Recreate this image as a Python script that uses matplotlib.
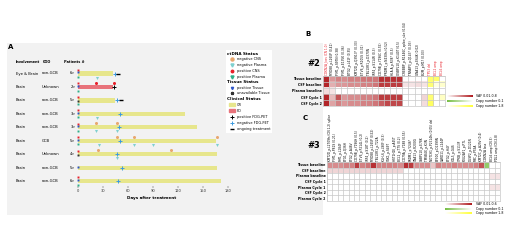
import numpy as np
import matplotlib
matplotlib.use('Agg')
import matplotlib.pyplot as plt
from matplotlib.colors import to_rgb
from matplotlib.patches import Rectangle

W, H = 520, 247

# ---- panel A data ----
involvement = ['Eye & Brain', 'Brain', 'Brain', 'Brain', 'Brain', 'Brain', 'Brain', 'Brain', 'Brain']
coo = ['non-GCB', 'Unknown', 'non-GCB', 'non-GCB', 'non-GCB', 'GCB', 'Unknown', 'non-GCB', 'non-GCB']
patients = ['6', '2', '5', '3', '3', '5', '4', '5', '6']
clin_status = ['CR', 'PD', 'CR', 'CR', 'CR', 'CR', 'CR', 'CR', 'CR']
last_day = [42, 42, 44, 128, 143, 166, 167, 167, 172]
neg_cns = [(4, 22), (4, 47), (5, 47), (5, 67), (5, 167), (6, 24), (6, 112)]
neg_plasma = [(0, 23), (3, 23), (4, 22), (4, 47), (5, 25), (5, 67), (5, 90), (5, 167), (6, 47)]
pos_cns = [(1, 22), (1, 43)]
pos_pet = [(1, 43)]
neg_pet = [(0, 44), (2, 47), (3, 50), (4, 49), (5, 50), (6, 47), (7, 53), (8, 48)]
ongoing = [(0, 48), (2, 51)]
base_pos_cns = [0, 1, 2, 3, 4, 5, 6, 8]
base_tissue_pos = [0, 1, 3, 4, 5, 7, 8]
base_tissue_na = [2, 6]
base_pos_plasma = [0, 1, 2, 3, 4, 5, 8]
days_ticks = [0, 30, 60, 90, 120, 150, 180]

# ---- panel B data ----
genes_b = ['CDKN2A_loss (CN 1.0)', 'MYD88_p.L265P (0.41)', 'PIM1_p.S97N (0.38)', 'PIM1_p.E135K (0.36)',
           'BTG2_p.L41F (0.35)', 'KMT2D_p.Q3913* (0.33)', 'ETV6_p.R105S (0.31)', 'TBL1XR1_p.D370N',
           'IRF4_p.S114R (0.3)', 'CD79B_p.Y196C (0.55)', 'PRDM1_p.N430fs (0.52)', 'HLA-A_p.R38* (0.5)',
           'OSBPL10_p.K140T (0.5)', 'CREBBP_p.R1446C_splice_site (0.04)', 'TNFAIP3_p.Q143* (0.03)',
           'GNA13_p.E64K (0.02)', 'B2M_p.M1? (0.03)', 'TP53 del', 'BCL2 amp', 'BCL6 amp']
red_b = [0, 17, 18, 19]
rows_b = ['Tissue baseline', 'CSF baseline', 'Plasma baseline', 'CSF Cycle 1', 'CSF Cycle 2']
vaf_b = [
    [0.95, 0.45, 0.55, 0.5, 0.55, 0.55, 0.6, 0.6, 0.6, 0.9, 0.9, 0.9, 0.9, 0, 0, 0, 0, 0, 0, 0],
    [0.95, 0.35, 0.45, 0.45, 0.5, 0.5, 0.55, 0.55, 0.6, 0.85, 0.85, 0.85, 0.85, 0.12, 0.12, 0.15, 0.12, 0, 0, 0],
    [0.15, 0.12, 0, 0, 0, 0, 0, 0, 0, 0, 0, 0, 0, 0, 0, 0, 0, 0, 0, 0],
    [0.95, 0.3, 0.75, 0.45, 0.5, 0.5, 0.55, 0.55, 0.6, 0.85, 0.85, 0.85, 0.85, 0, 0, 0, 0.18, 0, 0, 0],
    [0.95, 0.4, 0.55, 0.45, 0.5, 0.5, 0.55, 0.55, 0.6, 0.7, 0.8, 0.8, 0.8, 0, 0, 0, 0.15, 0, 0, 0],
]
cn_b = [
    [0] * 17 + [0.75, 0.75, 0],
    [0] * 17 + [0.7, 0.15, 0.25],
    [0] * 20,
    [0] * 17 + [0.7, 0, 0.3],
    [0] * 17 + [0.8, 0, 0],
]

# ---- panel C data ----
genes_c = ['KMT2D_p.L2709fs (CN 1.2) splice', 'PIM1_p.P81S (0.21)', 'PIM1_p.L184F', 'BTG1_p.Q36H',
           'BTG2_p.A48V', 'CD79B_p.Y196H (0.5)', 'ETV6_p.P214L (0.2)', 'IRF4_p.S18T (0.2)',
           'MYD88_p.L265P (0.52)', 'TBL1XR1_p.T22A', 'KLHL6_p.L90F (0.3)', 'SGK1_p.S49T',
           'HIST1H1E_p.A45T', 'BCL2_p.T7S (0.2)', 'CD79A_p.Y188 (0.55)', 'PRDM1_p.Y246*',
           'GNA13_p.R200G', 'OSBPL10_p.E78K', 'TMSB4X_p.K3N', 'NOTCH1_p.P2514fs (0.05) del',
           'EP300_p.D1399N', 'CARD11_p.L244P', 'BTG2_p.H4Y', 'IGLL5_p.G4S', 'ITPKB_p.S113F',
           'POU2AF1_p.P7L', 'DUSP2_p.D121N', 'MYC_p.P59A', 'KMT2C_p.A29V (0.4)', 'CDKN2A loss',
           'BCL6 amp (CN 3)', 'PDL1 amp (CN 2.8)']
rows_c = ['Tissue baseline', 'CSF baseline', 'Plasma baseline', 'CSF Cycle 1',
          'Plasma Cycle 1', 'CSF Cycle 2', 'Plasma Cycle 2']
vaf_c = [
    [0.5, 0.5, 0.5, 0.55, 0.55, 0.85, 0.55, 0.6, 0.9, 0.55, 0.55, 0.55, 0.55, 0.5, 0.9, 0.85,
     0.5, 0.5, 0.5, 0.25, 0.55, 0.5, 0.5, 0.55, 0.5, 0.5, 0.5, 0.55, 0.75, 0, 0, 0],
    [0.18] * 14 + [0] * 18,
    [0] * 30 + [0.12, 0.12],
    [0] * 32,
    [0] * 30 + [0.12, 0.12],
    [0] * 32,
    [0] * 32,
]
cn_c = [[0] * 29 + [-0.8, 0, 0]] + [[0] * 32 for _ in range(6)]


def box(l, t, r, b):
    return [l / W, 1 - b / H, (r - l) / W, (b - t) / H]


def fxy(x, y):
    return x / W, 1 - y / H


fig = plt.figure(figsize=(5.2, 2.47), dpi=100)
fig.patch.set_facecolor('white')

# grey panel A background
fig.patches.append(Rectangle(fxy(7, 215), 316 / W, 172 / H, transform=fig.transFigure,
                             facecolor='#f2f2f2', edgecolor='none', zorder=-5))
fig.text(*fxy(8, 47), 'A', fontsize=5, fontweight='bold', va='center')
fig.text(*fxy(305, 34), 'B', fontsize=5, fontweight='bold', va='center')
fig.text(*fxy(303, 118), 'C', fontsize=5, fontweight='bold', va='center')

# ---- panel A timeline ----
ax = fig.add_axes(box(72, 66, 232, 186))
ax.set_facecolor('none')
n = len(involvement)
ax.set_xlim(-7.2, 184.8)
ax.set_ylim(8.364, -0.558)
cols = {'CR': '#e7e68c', 'PD': '#e8737b'}
for i in range(n):
    ax.barh(i, last_day[i], height=0.32, color=cols[clin_status[i]], zorder=1)
ms = 2.2
for r, d in neg_cns:
    ax.plot(d, r - 0.3, 'o', color='#e8a86f', ms=ms, mec='none', zorder=3)
for r, d in neg_plasma:
    ax.plot(d, r + 0.3, 'v', color='#7fd0cf', ms=ms, mec='none', zorder=3)
for r, d in pos_cns:
    ax.plot(d, r - 0.3, 'o', color='#e8202a', ms=ms, mec='none', zorder=3)
for r, d in pos_pet:
    ax.plot(d, r, '+', color='black', ms=3.5, mew=0.7, zorder=4)
for r, d in neg_pet:
    ax.plot(d, r, '+', color='#3d9be0', ms=3.5, mew=0.7, zorder=4)
for r, d in ongoing:
    ax.plot(d, r, '_', color='black', ms=2.5, mew=1.0, zorder=4)
for r in base_pos_cns:
    ax.plot(0, r - 0.27, 's', color='#e8202a', ms=1.4, mec='none', zorder=3)
for r in base_tissue_pos:
    ax.plot(0, r - 0.08, 's', color='#2c54c8', ms=1.4, mec='none', zorder=3)
for r in base_tissue_na:
    ax.plot(0, r + 0.08, 's', color='#333333', ms=1.4, mec='none', zorder=3)
for r in base_pos_plasma:
    ax.plot(0, r + 0.27, 's', color='#2fb08a', ms=1.4, mec='none', zorder=3)
for s in ax.spines.values():
    s.set_visible(False)
ax.set_yticks([])
ax.set_xticks(days_ticks)
ax.set_xticklabels([str(d) for d in days_ticks], fontsize=2.6, color='#333333')
ax.tick_params(axis='x', length=1.5, width=0.3, pad=1, colors='#333333')
ax.set_xlabel('Days after treatment', fontsize=3, fontweight='bold', labelpad=1.5)

for i in range(n):
    y = 73.5 + 13.45 * i
    fig.text(*fxy(16, y), involvement[i], fontsize=2.7, va='center')
    fig.text(*fxy(42, y), coo[i], fontsize=2.7, va='center')
    fig.text(*fxy(75.5, y), patients[i] + '>', fontsize=2.6, va='center', ha='right')
fig.text(*fxy(16, 62), 'Involvement', fontsize=2.5, fontweight='bold', va='center')
fig.text(*fxy(43, 62), 'COO', fontsize=2.5, fontweight='bold', va='center')
fig.text(*fxy(64, 62), 'Patients #', fontsize=2.5, fontweight='bold', va='center')

# ---- panel A legend ----
lg = fig.add_axes(box(226, 50, 272, 133))
lg.set_xlim(226, 272)
lg.set_ylim(133, 50)
lg.set_facecolor('white')
lg.set_xticks([])
lg.set_yticks([])
for s in lg.spines.values():
    s.set_visible(False)
lg_fs = 2.5
lg.text(227, 53.7, 'ctDNA Status', fontsize=3, fontweight='bold', va='center')
lg.text(227, 82, 'Tissue Status', fontsize=3, fontweight='bold', va='center')
lg.text(227, 99, 'Clinical Status', fontsize=3, fontweight='bold', va='center')
items = [
    (59, 'negative CNS', dict(marker='o', color='#e8a86f', ms=2.2)),
    (65, 'negative Plasma', dict(marker='v', color='#7fd0cf', ms=2.2)),
    (71, 'positive CNS', dict(marker='o', color='#e8202a', ms=1.8)),
    (77, 'positive Plasma', dict(marker='v', color='#2fb08a', ms=2.2)),
    (88, 'positive Tissue', dict(marker='v', color='#2c54c8', ms=1.6)),
    (93, 'unavailable Tissue', dict(marker='*', color='#333333', ms=2.2)),
    (117, 'positive FDG-PET', dict(marker='+', color='black', ms=3.5, mew=0.7)),
    (123, 'negative FDG-PET', dict(marker='+', color='#3d9be0', ms=3.5, mew=0.7)),
    (129, 'ongoing treatment', dict(marker='_', color='black', ms=2.5, mew=1.0)),
]
for y, lab, kw in items:
    lg.plot(232, y, linestyle='none', mec=kw['color'], **kw)
    lg.text(237, y, lab, fontsize=lg_fs, va='center')
for y, lab, c in [(105, 'CR', '#e7e68c'), (111, 'PD', '#e8737b')]:
    lg.add_patch(Rectangle((229, y - 1.5), 6, 3, color=c))
    lg.text(237, y, lab, fontsize=lg_fs, va='center')

# ---- heatmaps ----
RED = np.array(to_rgb('#b01a1e'))
YEL = np.array(to_rgb('#ffff3a'))
GRN = np.array(to_rgb('#78be45'))


def heat(rect, vaf, cn, genes, red_cols, rows, gene_fs):
    vaf = np.array(vaf, dtype=float)
    cn = np.array(cn, dtype=float)
    img = np.ones(vaf.shape + (3,))
    v = vaf[..., None]
    img = img * (1 - v) + RED * v
    cp = np.clip(cn, 0, None)[..., None]
    img = img * (1 - cp) + YEL * cp
    cg = np.clip(-cn, 0, None)[..., None]
    img = img * (1 - cg) + GRN * cg
    hx = fig.add_axes(box(*rect))
    hx.imshow(img, aspect='auto', interpolation='nearest')
    nr, nc = vaf.shape
    hx.set_xticks(np.arange(nc + 1) - 0.5, minor=True)
    hx.set_yticks(np.arange(nr + 1) - 0.5, minor=True)
    hx.grid(which='minor', color='#c8c8c8', lw=0.5)
    hx.tick_params(which='both', length=0, pad=1)
    hx.xaxis.tick_top()
    hx.set_xticks(range(nc))
    hx.set_xticklabels(genes, rotation=90, fontsize=gene_fs)
    for j, t in enumerate(hx.get_xticklabels()):
        if j in red_cols:
            t.set_color('#e8202a')
    hx.set_yticks(range(nr))
    hx.set_yticklabels(rows, fontsize=2.3, fontweight='bold')
    for s in hx.spines.values():
        s.set_color('#c8c8c8')
        s.set_linewidth(0.5)
    return hx


heat((323, 76, 445, 106), vaf_b, cn_b, genes_b, red_b, rows_b, 2.1)
heat((327, 162, 500, 201), vaf_c, cn_c, genes_c, [], rows_c, 2.1)
fig.text(*fxy(307, 63), '#2', fontsize=6, fontweight='bold', va='center')
fig.text(*fxy(307, 145), '#3', fontsize=6, fontweight='bold', va='center')

# ---- heatmap legends ----
grad = np.linspace(0, 1, 64)[None, :, None]
bars = [('white', RED), (GRN, 'white'), ('white', YEL)]


def hlegend(x0, x1, ys, labels):
    for y, lab, (c0, c1) in zip(ys, labels, bars):
        c0 = np.array(to_rgb(c0)); c1 = np.array(to_rgb(c1))
        g = c0 * (1 - grad) + c1 * grad
        bx = fig.add_axes(box(x0, y - 1.3, x1, y + 1.3))
        bx.imshow(g, aspect='auto')
        bx.axis('off')
        fig.text(*fxy(x1 + 4, y), lab, fontsize=2.3, va='center')


hlegend(447, 472, [96, 101, 106], ['VAF 0.01-0.8', 'Copy number 0-1', 'Copy number 1-8'])
hlegend(445, 472, [204, 209, 213], ['VAF 0.01-0.6', 'Copy number 0-1', 'Copy number 1-8'])

fig.savefig('out.png', dpi=100, facecolor='white')
